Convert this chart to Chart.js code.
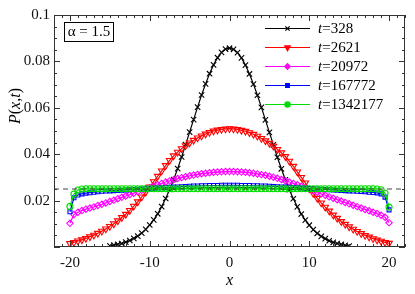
<!DOCTYPE html>
<html>
<head>
<meta charset="utf-8">
<script src="https://cdn.jsdelivr.net/npm/chart.js@4.4.1/dist/chart.umd.min.js"></script>
<style>
    html, body { margin: 0; padding: 0; background: #fff; }
    #wrap { width: 415px; height: 294px; }
</style>
</head>
<body>
<div id="wrap"><canvas id="grafico" width="415" height="294"></canvas></div>
<script>
// Posiciones x (paso 0.5)
const xs = [-20,-19.5,-19,-18.5,-18,-17.5,-17,-16.5,-16,-15.5,-15,-14.5,-14,-13.5,-13,-12.5,-12,-11.5,-11,-10.5,
    -10,-9.5,-9,-8.5,-8,-7.5,-7,-6.5,-6,-5.5,-5,-4.5,-4,-3.5,-3,-2.5,-2,-1.5,-1,-0.5,
    0,0.5,1,1.5,2,2.5,3,3.5,4,4.5,5,5.5,6,6.5,7,7.5,8,8.5,9,9.5,
    10,10.5,11,11.5,12,12.5,13,13.5,14,14.5,15,15.5,16,16.5,17,17.5,18,18.5,19,19.5,20];
const xsBlack = xs.slice(10, 71); // -15 .. 15

// Valores de P(x,t)
const p328 = [.0005,.0008,.0011,.0015,.0021,.0028,.0037,.0047,.0060,.0076,.0095,.0117,.0143,.0174,.0209,.0248,.0291,.0338,.0388,.0441,
    .0495,.0549,.0603,.0655,.0703,.0747,.0785,.0816,.0839,.0853,
    .0857,.0852,.0838,.0815,.0784,.0746,.0702,.0654,.0602,.0548,.0494,.0440,.0387,.0337,.0290,.0247,.0208,.0173,.0142,.0116,
    .0094,.0075,.0059,.0046,.0036,.0027,.0020,.0015,.0011,.0007,.0004];
const p2621 = [.0015,.0020,.0026,.0031,.0037,.0044,.0051,.0059,.0068,.0078,.0089,.0100,.0113,.0127,.0141,.0158,.0176,.0195,.0216,.0237,
    .0259,.0282,.0305,.0328,.0351,.0373,.0393,.0409,.0424,.0437,.0449,.0460,.0470,.0479,.0487,.0494,.0500,.0504,.0507,.0509,
    .0510,.0509,.0507,.0503,.0499,.0493,.0486,.0478,.0468,.0458,.0447,.0435,.0421,.0406,.0390,.0370,.0348,.0324,.0300,.0276,
    .0252,.0231,.0210,.0190,.0172,.0155,.0138,.0124,.0110,.0098,.0087,.0077,.0067,.0058,.0050,.0043,.0036,.0030,.0025,.0020,.0016];
const p20972 = [.0102,.0140,.0150,.0157,.0163,.0168,.0173,.0179,.0184,.0190,.0196,.0202,.0208,.0214,.0220,.0226,.0232,.0238,.0244,.0250,
    .0256,.0262,.0268,.0274,.0280,.0285,.0290,.0295,.0299,.0303,.0307,.0310,.0313,.0316,.0318,.0320,.0322,.0323,.0324,.0325,
    .0325,.0325,.0324,.0323,.0322,.0320,.0318,.0315,.0312,.0309,.0305,.0301,.0296,.0291,.0286,.0280,.0274,.0268,.0262,.0255,
    .0249,.0242,.0236,.0229,.0223,.0216,.0210,.0204,.0198,.0192,.0186,.0180,.0174,.0168,.0162,.0156,.0150,.0144,.0137,.0128,.0105];
const p167772 = [.0152,.0212,.0224,.0229,.0232,.0234,.0236,.0238,.0240,.0241,.0242,.0243,.0244,.0245,.0246,.0247,.0248,.0249,.0250,.0251,
    .0252,.0253,.0254,.0255,.0256,.0257,.0258,.0259,.0260,.0261,.0262,.0263,.0263,.0264,.0264,.0265,.0265,.0265,.0266,.0266,
    .0266,.0266,.0266,.0265,.0265,.0265,.0264,.0264,.0263,.0263,.0262,.0261,.0260,.0259,.0258,.0257,.0256,.0255,.0254,.0253,
    .0252,.0251,.0250,.0249,.0248,.0247,.0246,.0245,.0244,.0243,.0242,.0241,.0240,.0239,.0238,.0236,.0235,.0233,.0229,.0215,.0160];
const p1342177 = [.0175,.0228,.0246,.0250,.0251,.0251,.0251,.0251,.0251,.0251,.0251,.0251,.0251,.0251,.0251,.0251,.0251,.0251,.0251,.0251,
    .0251,.0251,.0251,.0251,.0251,.0251,.0251,.0251,.0251,.0251,.0251,.0251,.0251,.0251,.0251,.0251,.0251,.0251,.0251,.0251,
    .0251,.0251,.0251,.0251,.0251,.0251,.0251,.0251,.0251,.0251,.0251,.0251,.0251,.0251,.0251,.0251,.0251,.0251,.0251,.0251,
    .0251,.0251,.0251,.0251,.0251,.0251,.0251,.0251,.0251,.0251,.0251,.0251,.0251,.0251,.0251,.0251,.0251,.0250,.0247,.0232,.0172];

// Nivel uniforme (linea discontinua) y limites
const nivelUniforme = 0.025;
const xLimites = [-22, 22];
const yLimites = [0, 0.1];
const xTicks = [-20, -10, 0, 10, 20];
const yTicks = [0.02, 0.04, 0.06, 0.08, 0.1];
const tiempos = ['328', '2621', '20972', '167772', '1342177'];
const alfaTexto = 'α = 1.5';

const SERIF = '"Liberation Serif", "DejaVu Serif", serif';

function puntos(xArr, yArr) {
    return xArr.map((x, i) => ({ x: x, y: yArr[i] }));
}

const series = [
    { label: tiempos[0], data: puntos(xsBlack, p328), color: '#000000', style: 'crossRot', radius: 3.8, rot: 0, legendR: 3 },
    { label: tiempos[1], data: puntos(xs, p2621), color: '#ff0000', style: 'triangle', radius: 3.8, rot: 180, legendR: 3.2 },
    { label: tiempos[2], data: puntos(xs, p20972), color: '#ff00ff', style: 'rectRot', radius: 3.2, rot: 0, legendR: 2.8 },
    { label: tiempos[3], data: puntos(xs, p167772), color: '#0000ff', style: 'rect', radius: 2.8, rot: 0, legendR: 2.6 },
    { label: tiempos[4], data: puntos(xs, p1342177), color: '#00dd00', style: 'circle', radius: 3, rot: 0, legendR: 2.6 }
];

const datasets = series.map((s, i) => ({
    label: s.label,
    data: s.data,
    borderColor: s.color,
    borderWidth: 1.2,
    backgroundColor: 'rgba(0,0,0,0)',
    pointStyle: s.style,
    pointRadius: s.radius,
    pointRotation: s.rot,
    pointBorderColor: s.color,
    pointBackgroundColor: 'rgba(0,0,0,0)',
    pointBorderWidth: 1.1,
    tension: 0,
    order: 5 - i
}));

datasets.push({
    label: 'uniforme',
    data: [{ x: xLimites[0], y: nivelUniforme }, { x: xLimites[1], y: nivelUniforme }],
    borderColor: '#444',
    borderWidth: 1,
    borderDash: [5, 4],
    pointRadius: 0,
    order: 0
});

// Plugin: marco, ticks internos, leyenda, titulos
const decoracion = {
    id: 'decoracion',
    afterDraw(chart) {
        const ctx = chart.ctx;
        const a = chart.chartArea;
        const sx = chart.scales.x;
        const sy = chart.scales.y;
        ctx.save();

        // marco
        ctx.strokeStyle = '#333';
        ctx.lineWidth = 1;
        ctx.strokeRect(a.left + 0.5, a.top + 0.5, a.right - a.left - 1, a.bottom - a.top - 1);

        // ticks en x
        ctx.beginPath();
        for (let v = xLimites[0]; v <= xLimites[1]; v++) {
            const px = Math.round(sx.getPixelForValue(v)) + 0.5;
            const len = (v % 10 === 0) ? 6 : 3;
            ctx.moveTo(px, a.bottom); ctx.lineTo(px, a.bottom - len);
            ctx.moveTo(px, a.top); ctx.lineTo(px, a.top + len);
        }
        // ticks en y
        for (let k = 0; k <= 20; k++) {
            const v = k * 0.005;
            const py = Math.round(sy.getPixelForValue(v)) + 0.5;
            const len = (k % 4 === 0) ? 6 : 3;
            ctx.moveTo(a.left, py); ctx.lineTo(a.left + len, py);
            ctx.moveTo(a.right, py); ctx.lineTo(a.right - len, py);
        }
        ctx.stroke();

        // recuadro alfa
        ctx.strokeStyle = '#000';
        ctx.strokeRect(64.5, 22.5, 49, 19);
        ctx.fillStyle = '#000';
        ctx.font = '15px ' + SERIF;
        ctx.textAlign = 'center';
        ctx.textBaseline = 'middle';
        ctx.fillText(alfaTexto, 89, 32.5);

        // leyenda
        const y0 = 28, dy = 19;
        series.forEach((s, i) => {
            const y = y0 + i * dy;
            ctx.strokeStyle = s.color;
            ctx.lineWidth = 1.2;
            ctx.beginPath();
            ctx.moveTo(265, y + 0.5); ctx.lineTo(310, y + 0.5);
            ctx.stroke();
            ctx.fillStyle = s.color;
            Chart.helpers.drawPoint(ctx, {
                pointStyle: s.style, radius: s.legendR, rotation: s.rot, borderWidth: 1
            }, 287.5, y + 0.5);
            ctx.fillStyle = '#000';
            ctx.textAlign = 'left';
            ctx.textBaseline = 'middle';
            ctx.font = 'italic 15px ' + SERIF;
            ctx.fillText('t', 318, y + 1);
            const w = ctx.measureText('t').width;
            ctx.font = '15px ' + SERIF;
            ctx.fillText('=' + s.label, 318 + w, y + 1);
        });

        // titulo eje x
        ctx.font = 'italic 16px ' + SERIF;
        ctx.textAlign = 'center';
        ctx.textBaseline = 'middle';
        ctx.fillText('x', sx.getPixelForValue(0), 281);

        // titulo eje y: P(x,t)
        const partes = [['P', true], ['(', false], ['x', true], [',', false], ['t', true], [')', false]];
        ctx.translate(16, 106);
        ctx.rotate(-Math.PI / 2);
        let total = 0;
        partes.forEach(p => {
            ctx.font = (p[1] ? 'italic ' : '') + '16px ' + SERIF;
            total += ctx.measureText(p[0]).width;
        });
        let cx = -total / 2;
        ctx.textAlign = 'left';
        partes.forEach(p => {
            ctx.font = (p[1] ? 'italic ' : '') + '16px ' + SERIF;
            ctx.fillText(p[0], cx, 0);
            cx += ctx.measureText(p[0]).width;
        });
        ctx.restore();
    }
};

new Chart(document.getElementById('grafico'), {
    type: 'line',
    data: { datasets: datasets },
    options: {
        responsive: false,
        animation: false,
        layout: { padding: { left: 0, right: 10, top: 15, bottom: 0 } },
        plugins: {
            legend: { display: false },
            tooltip: { enabled: false }
        },
        scales: {
            x: {
                type: 'linear',
                min: xLimites[0],
                max: xLimites[1],
                afterFit: scale => { scale.height = 47; },
                afterBuildTicks: scale => { scale.ticks = xTicks.map(v => ({ value: v })); },
                grid: { display: false, drawTicks: false },
                border: { display: false },
                ticks: {
                    padding: 7,
                    color: '#111',
                    font: { family: SERIF, size: 15 },
                    maxRotation: 0,
                    callback: v => String(v)
                }
            },
            y: {
                min: yLimites[0],
                max: yLimites[1],
                afterFit: scale => { scale.width = 54; },
                afterBuildTicks: scale => { scale.ticks = yTicks.map(v => ({ value: v })); },
                grid: { display: false, drawTicks: false },
                border: { display: false },
                ticks: {
                    padding: 4,
                    color: '#111',
                    font: { family: SERIF, size: 15 },
                    callback: v => String(Math.round(v * 100) / 100)
                }
            }
        }
    },
    plugins: [decoracion]
});
</script>
</body>
</html>
